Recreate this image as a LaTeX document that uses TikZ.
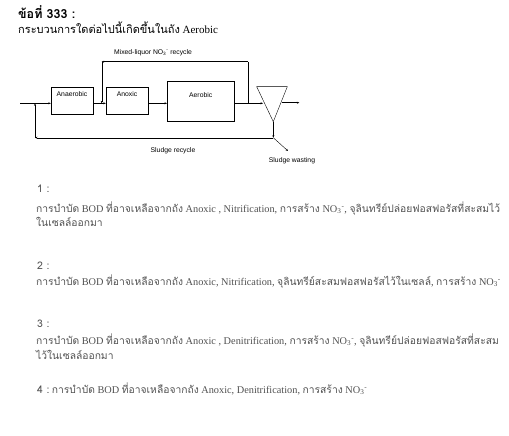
\documentclass[tikz,border=0pt]{standalone}
\usepackage{fontspec}
\setmainfont{Liberation Serif}
\setsansfont{Liberation Sans}
\newfontfamily\thaifont[Script=Thai]{Loma}
\usetikzlibrary{arrows.meta,positioning}
\usepackage{xcolor}
\definecolor{optgray}{HTML}{505050}
\newcommand{\tht}[1]{{\thaifont #1}}
\newcommand{\nothree}{NO\textsubscript{3}\textsuperscript{-}}
\tikzset{
  tank/.style={draw, thin, inner sep=0pt},
  tanklbl/.style={font=\sffamily\fontsize{6.8}{8}\selectfont, inner sep=0pt},
  flow/.style={draw, thin, -{Stealth[length=2.5pt,width=2pt]}},
  opt/.style={anchor=base west, inner sep=0pt, text=optgray, font=\fontsize{10.3}{12}\selectfont},
  optnum/.style={anchor=base west, inner sep=0pt, text=optgray, font=\thaifont\fontsize{10.5}{12}\selectfont}
}
\begin{document}
\begin{tikzpicture}[x=1pt,y=-1pt]
     \useasboundingbox (0,0) rectangle (509,436);
     \node [anchor=base west, inner sep=0pt, font=\thaifont\bfseries\fontsize{12.5}{14}\selectfont] (qnum) at (18,18.5) {ข้อที่ 333 :};
     \node [anchor=base west, inner sep=0pt, font=\fontsize{11}{13}\selectfont] (qtext) at (18,34) {\tht{กระบวนการใดต่อไปนี้เกิดขึ้นในถัง} Aerobic};
     \node [tank, minimum width=42pt, minimum height=27pt, label={[tanklbl,anchor=north,yshift=-4pt]north:Anaerobic}] (anaer) at (72,100.8) {};
     \node [tank, minimum width=42pt, minimum height=27pt, label={[tanklbl,anchor=north,yshift=-4pt]north:Anoxic}] (anox) at (127,100.8) {};
     \node [tank, minimum width=67pt, minimum height=40pt, label={[tanklbl,anchor=north,yshift=-12pt]north:Aerobic}] (aer) at (200.7,100.9) {};
     \coordinate (cl1) at (256.7,86.7);
     \coordinate (cl2) at (287.3,86.7);
     \coordinate (clb) at (273.3,121.7);
     \draw [thin] (cl1) -- (cl2) -- (clb) -- cycle;
     \coordinate (feed) at (20,103.3);
     \coordinate (join) at (35,103.3);
     \coordinate (clin) at (263,103.3);
     \coordinate (rise) at (248,103.3);
     \coordinate (rtop) at (248,61.7);
     \coordinate (rend) at (101.7,61.7);
     \coordinate (rin) at (101.7,103.3);
     \coordinate (out0) at (281.7,102.7);
     \coordinate (out1) at (299.3,102.7);
     \coordinate (under) at (273.3,137.7);
     \coordinate (back) at (35,137.7);
     \coordinate (waste) at (288,151);
     \draw [flow] (feed) -- (feed -| anaer.west);
     \draw [flow] (anaer.east |- feed) -- (anox.west |- feed);
     \draw [flow] (anox.east |- feed) -- (aer.west |- feed);
     \draw [flow] (aer.east |- feed) -- (clin);
     \draw [thin] (rise) -- (rtop);
     \draw [flow] (rtop) -- (rend);
     \draw [flow] (rend) -- (rin);
     \draw [flow] (out0) -- (out1);
     \draw [flow] (clb) -- (under);
     \draw [flow] (under) -- (back);
     \draw [flow] (back) -- (join);
     \draw [flow] (under) -- (waste);
     \node [tanklbl] (mlr) at (153,53) {Mixed-liquor \nothree{} recycle};
     \node [tanklbl] (srl) at (173,151) {Sludge recycle};
     \node [tanklbl] (swl) at (292,161) {Sludge wasting};
     \node [optnum] (n1) at (37,192) {1 :};
     \node [opt] (o1a) at (36,212) {\tht{การบำบัด} BOD \tht{ที่อาจเหลือจากถัง} Anoxic , Nitrification, \tht{การสร้าง} \nothree, \tht{จุลินทรีย์ปล่อยฟอสฟอรัสที่สะสมไว้}};
     \node [opt] (o1b) at (36,226) {\tht{ในเซลล์ออกมา}};
     \node [optnum] (n2) at (37,269) {2 :};
     \node [opt] (o2a) at (36,285) {\tht{การบำบัด} BOD \tht{ที่อาจเหลือจากถัง} Anoxic, Nitrification, \tht{จุลินทรีย์สะสมฟอสฟอรัสไว้ในเซลล์}, \tht{การสร้าง} \nothree};
     \node [optnum] (n3) at (37,327) {3 :};
     \node [opt] (o3a) at (36,344) {\tht{การบำบัด} BOD \tht{ที่อาจเหลือจากถัง} Anoxic , Denitrification, \tht{การสร้าง} \nothree, \tht{จุลินทรีย์ปล่อยฟอสฟอรัสที่สะสม}};
     \node [opt] (o3b) at (36,359) {\tht{ไว้ในเซลล์ออกมา}};
     \node [optnum] (n4) at (37,393) {4 :};
     \node [opt, right=2pt of n4.base east, anchor=base west] (o4a) {\tht{การบำบัด} BOD \tht{ที่อาจเหลือจากถัง} Anoxic, Denitrification, \tht{การสร้าง} \nothree};
\end{tikzpicture}
\end{document}
